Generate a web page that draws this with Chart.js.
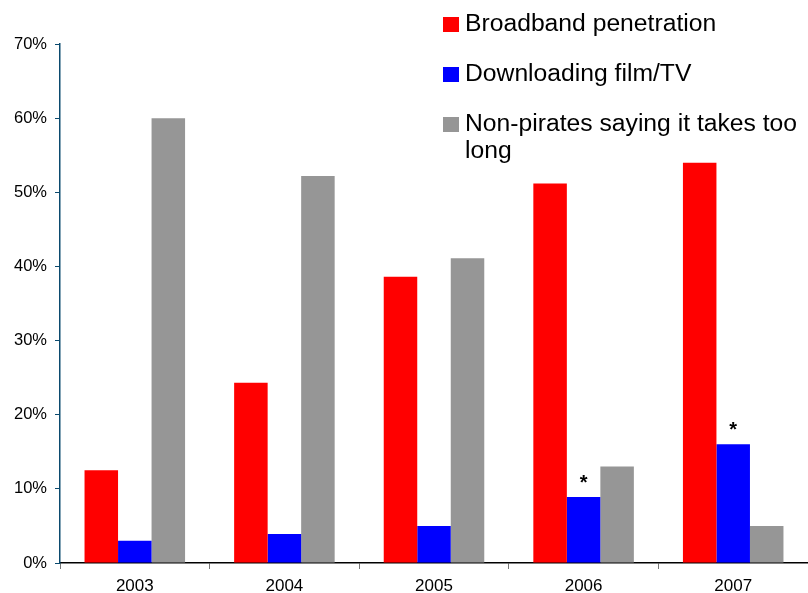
<!DOCTYPE html>
<html>
<head>
<meta charset="utf-8">
<script src="https://cdn.jsdelivr.net/npm/chart.js@4"></script>
<style>
  html, body { margin: 0; padding: 0; background: #fff; }
  .wrap { position: relative; width: 808px; height: 593px; }
  canvas { display: block; }
  .legend { position: absolute; left: 443px; top: 9px; font-family: 'Liberation Sans', Arial, sans-serif; font-size: 24.7px; color: #000; }
  .legend .item { position: relative; padding-left: 22px; line-height: 27px; margin-bottom: 23px; width: 350px; }
  .legend .sw { position: absolute; left: 0; top: 8px; width: 16px; height: 15px; }
</style>
</head>
<body>
<div class="wrap">
  <canvas id="chart" width="808" height="593"></canvas>
  <div class="legend" id="legend"></div>
</div>
<script>
const years = ['2003', '2004', '2005', '2006', '2007'];
const seriesNames = ['Broadband penetration', 'Downloading film/TV', 'Non-pirates saying it takes too long'];
const broadband = [12.5, 24.3, 38.6, 51.2, 54];
const downloading = [3, 3.9, 5, 8.9, 16];
const tooLong = [60, 52.2, 41.1, 13, 5];
const colors = ['#ff0000', '#0000ff', '#969696'];
const yTicks = [0, 10, 20, 30, 40, 50, 60, 70];
// asterisks over the downloading bars
const starred = [false, false, false, true, true];

// legend (html, real text)
const leg = document.getElementById('legend');
seriesNames.forEach((n, i) => {
  const d = document.createElement('div');
  d.className = 'item';
  d.innerHTML = '<span class="sw" style="background:' + colors[i] + '"></span>' + n;
  leg.appendChild(d);
});

const stars = {
  id: 'stars',
  afterDatasetsDraw(chart) {
    const ctx = chart.ctx;
    const meta = chart.getDatasetMeta(1);
    ctx.save();
    ctx.font = 'bold 20px "Liberation Sans", Arial, sans-serif';
    ctx.fillStyle = '#000';
    ctx.textAlign = 'center';
    ctx.textBaseline = 'alphabetic';
    meta.data.forEach((bar, i) => {
      if (starred[i]) ctx.fillText('*', bar.x, bar.y - 8);
    });
    ctx.restore();
  }
};

new Chart(document.getElementById('chart'), {
  type: 'bar',
  data: {
    labels: years,
    datasets: [
      { label: seriesNames[0], data: broadband, backgroundColor: colors[0] },
      { label: seriesNames[1], data: downloading, backgroundColor: colors[1] },
      { label: seriesNames[2], data: tooLong, backgroundColor: colors[2] }
    ]
  },
  options: {
    responsive: false,
    animation: false,
    datasets: { bar: { categoryPercentage: 0.672, barPercentage: 1, borderWidth: 0 } },
    layout: { padding: { top: 44, right: 0, left: 0, bottom: 0 } },
    plugins: { legend: { display: false }, tooltip: { enabled: false } },
    scales: {
      x: {
        afterFit: s => { s.height = 30; },
        border: { color: '#000', width: 1.5 },
        grid: { drawOnChartArea: false, offset: true, tickLength: 6, color: '#777' },
        ticks: { color: '#000', padding: 7, font: { family: "'Liberation Sans', Arial, sans-serif", size: 17 } }
      },
      y: {
        min: 0, max: 70,
        afterFit: s => { s.width = 60; },
        afterBuildTicks: s => { s.ticks = yTicks.map(v => ({ value: v })); },
        border: { color: '#0b4a6e', width: 1.5 },
        grid: { drawOnChartArea: false, tickLength: 5, color: '#0b4a6e' },
        ticks: {
          color: '#000', padding: 8,
          font: { family: "'Liberation Sans', Arial, sans-serif", size: 16.5 },
          callback: v => v + '%'
        }
      }
    }
  },
  plugins: [stars]
});
</script>
</body>
</html>
